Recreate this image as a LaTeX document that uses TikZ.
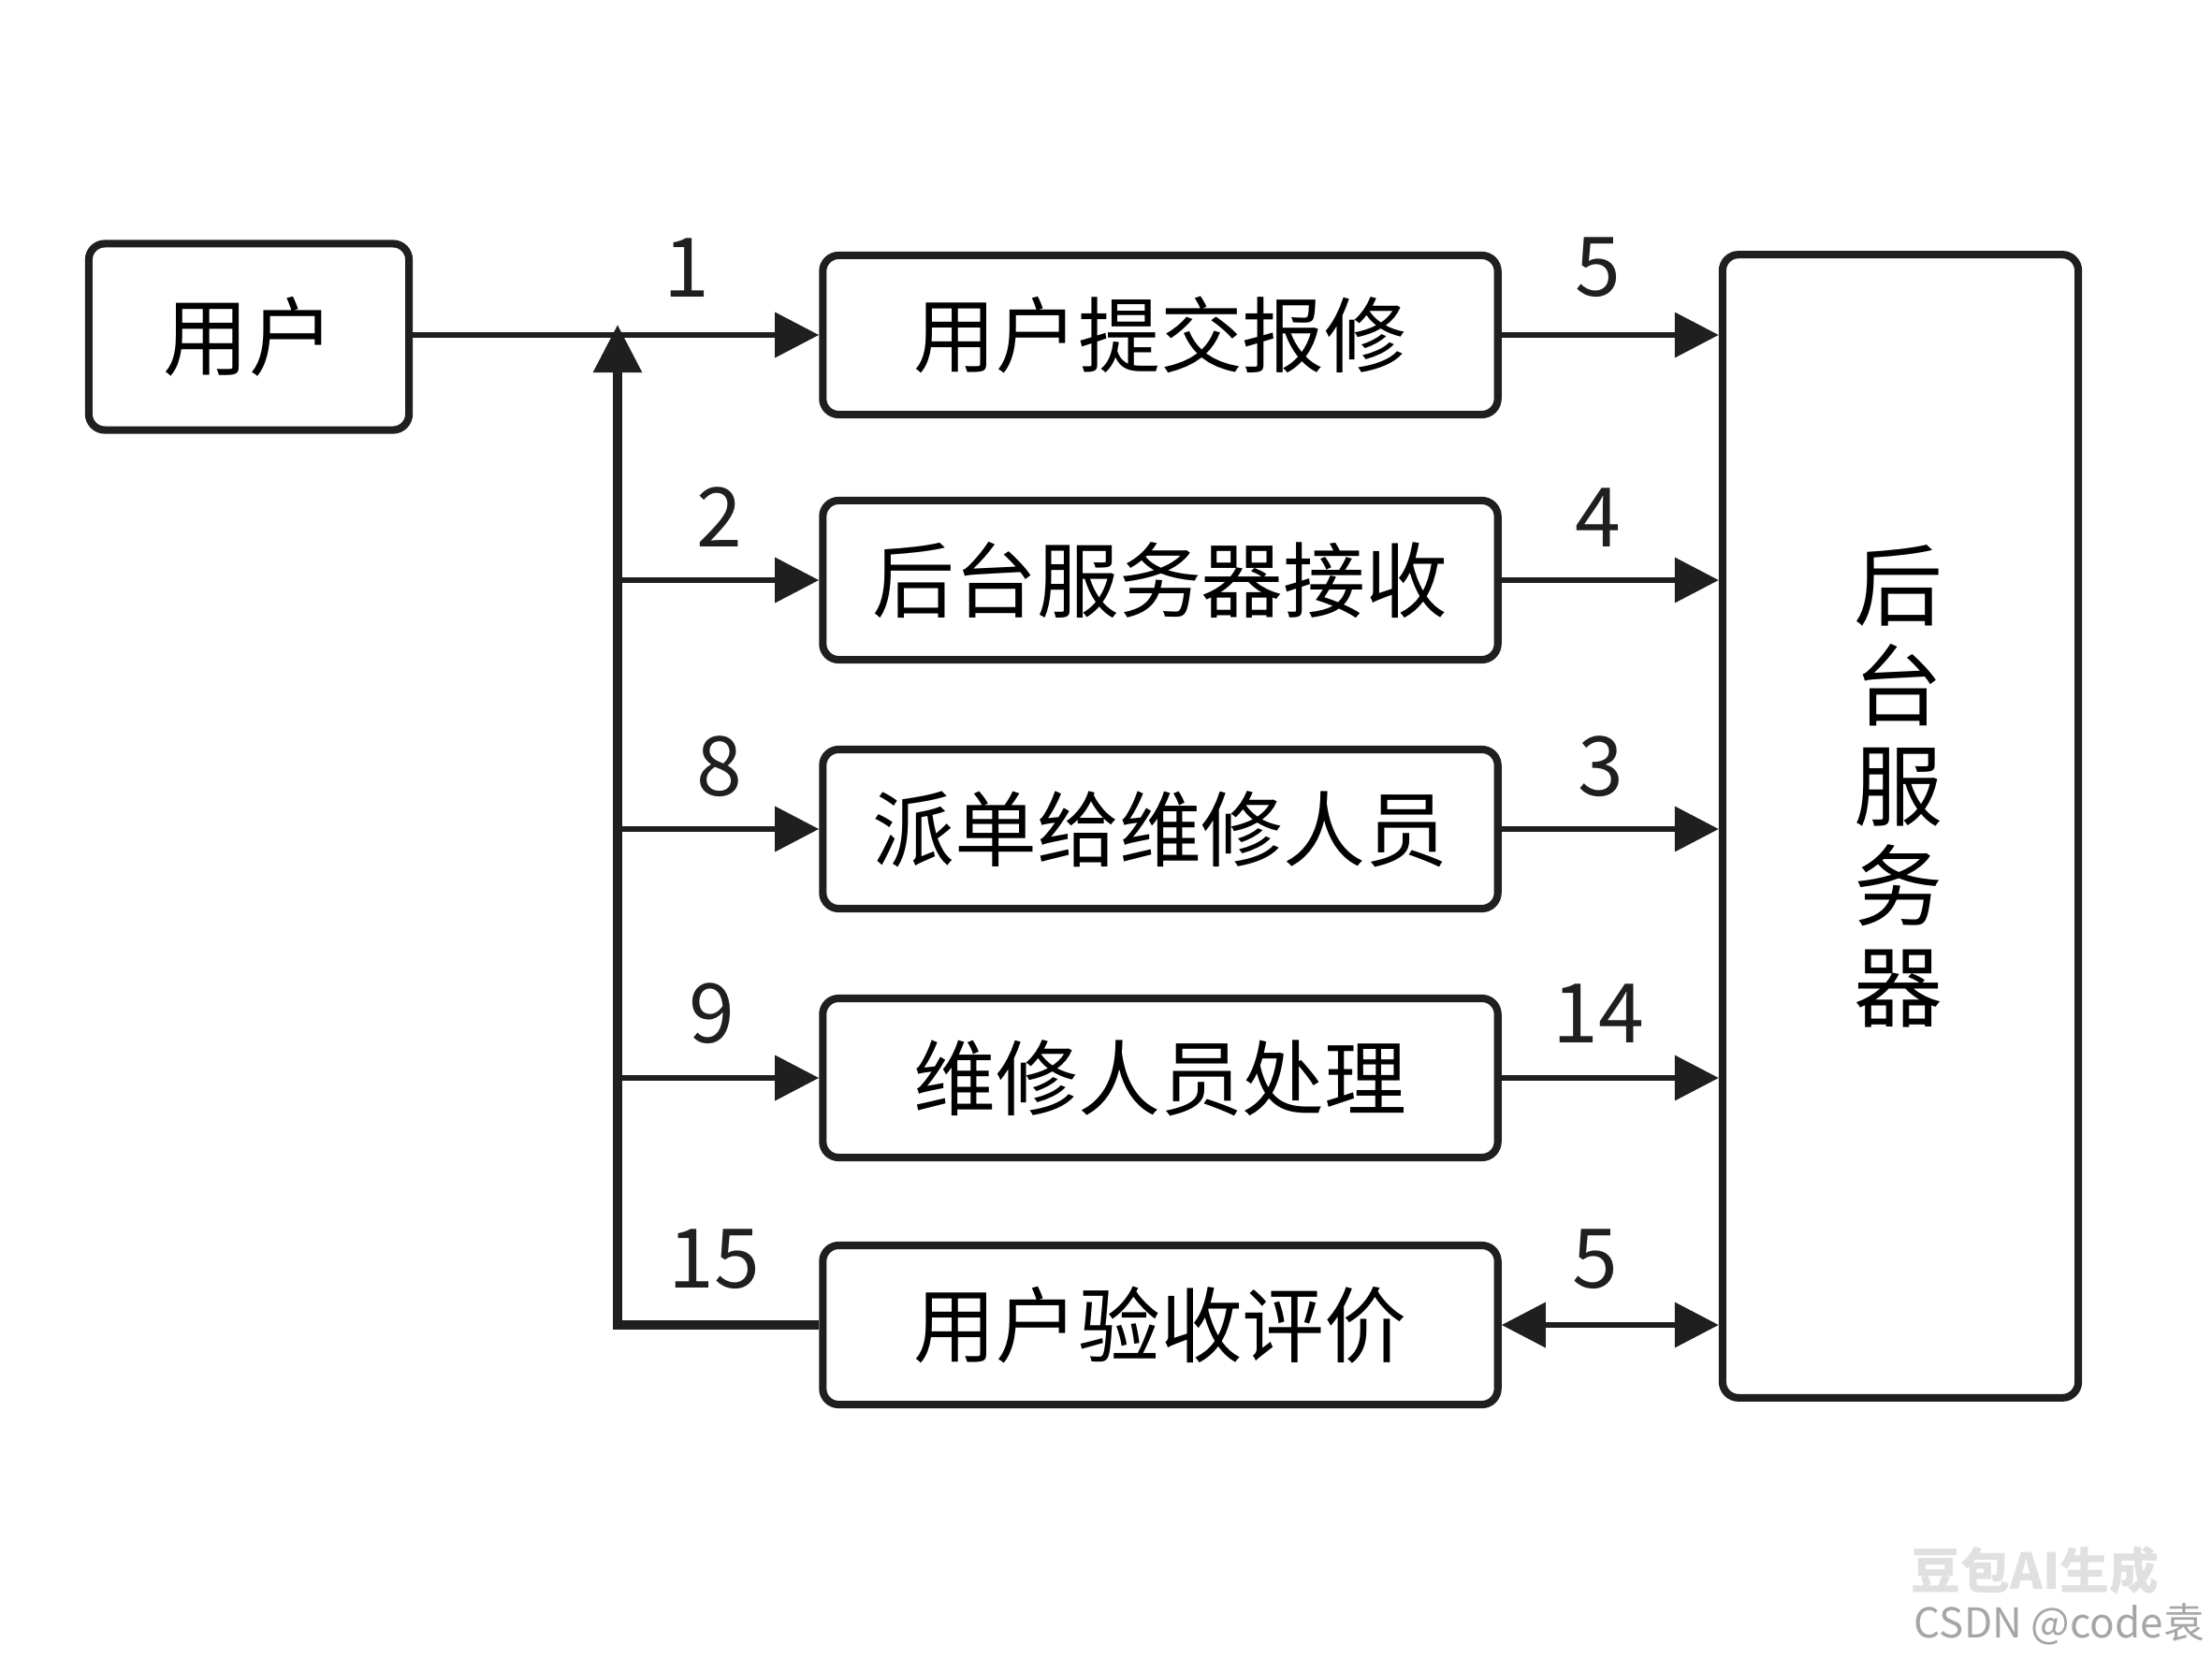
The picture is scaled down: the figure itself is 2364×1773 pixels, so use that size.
\documentclass[tikz,border=0pt]{standalone}
\usepackage{fontspec}
\setmainfont{Noto Sans CJK SC}
\usetikzlibrary{arrows.meta}
\begin{document}
\begin{tikzpicture}[x=0.01cm,y=-0.01cm,
  box/.style={draw=black!88, line width=2.3pt, rounded corners=0.17cm, minimum width=7.21cm, minimum height=1.70cm, inner sep=0pt, font=\fontsize{25}{30}\selectfont},
  conn/.style={line width=1.9pt, draw=black!88, -{Triangle[length=0.47cm,width=0.47cm]}},
  dconn/.style={line width=1.9pt, draw=black!88, {Triangle[length=0.47cm,width=0.47cm]}-{Triangle[length=0.47cm,width=0.47cm]}},
  num/.style={font=\fontsize{25}{30}\selectfont, text=black!88, inner sep=0pt}
]
\useasboundingbox (0,0) rectangle (2364,1773);
\fill[white] (0,0) rectangle (2364,1773);

% nodes
\node[box, minimum width=3.42cm, minimum height=1.99cm, font=\fontsize{26}{30}\selectfont] (user) at (266,360) {用户};
\node[box] (b1) at (1240,358) {用户提交报修};
\node[box] (b2) at (1240,620) {后台服务器接收};
\node[box] (b3) at (1240,886) {派单给维修人员};
\node[box] (b4) at (1240,1152) {维修人员处理};
\node[box] (b5) at (1240,1416) {用户验收评价};
\node[box, minimum width=3.80cm, minimum height=12.21cm] (srv) at (2031,883) {};
\node[font=\fontsize{27}{30.5}\selectfont, align=center, inner sep=0pt] (srvtxt) at (2029,840) {后\\台\\服\\务\\器};

% left bus
\coordinate (jtop) at (660,347);
\draw[conn] (user.east |- b1.west) -- (b1.west);
\draw[line width=2.6pt, draw=black!88, -{Triangle[length=0.51cm,width=0.50cm]}] (b5.west) -| (jtop);
\draw[conn] (jtop |- b2.west) -- (b2.west);
\draw[conn] (jtop |- b3.west) -- (b3.west);
\draw[conn] (jtop |- b4.west) -- (b4.west);

% right arrows
\draw[conn] (b1.east) -- (srv.west |- b1.east);
\draw[conn] (b2.east) -- (srv.west |- b2.east);
\draw[conn] (b3.east) -- (srv.west |- b3.east);
\draw[conn] (b4.east) -- (srv.west |- b4.east);
\draw[dconn] (b5.east) -- (srv.west |- b5.east);

% labels
\node[num] (n1) at (734,286) {1};
\node[num] (n5a) at (1708,286) {5};
\node[num] (n2) at (769,553) {2};
\node[num] (n4) at (1708,553) {4};
\node[num] (n8) at (769,819) {8};
\node[num] (n3) at (1711,819) {3};
\node[num] (n9) at (761,1083) {9};
\node[num] (n14) at (1708,1083) {14};
\node[num] (n15) at (763,1346) {15};
\node[num] (n5b) at (1705,1346) {5};

% watermark
\node[font=\fontsize{15}{18}\selectfont\bfseries, text=black!12, inner sep=0pt] (wm1) at (2175,1678) {豆包AI生成};
\node[font=\fontsize{12.5}{15}\selectfont, text=black!35, inner sep=0pt] (wm2) at (2201,1736) {CSDN @code袁};
\end{tikzpicture}
\end{document}
